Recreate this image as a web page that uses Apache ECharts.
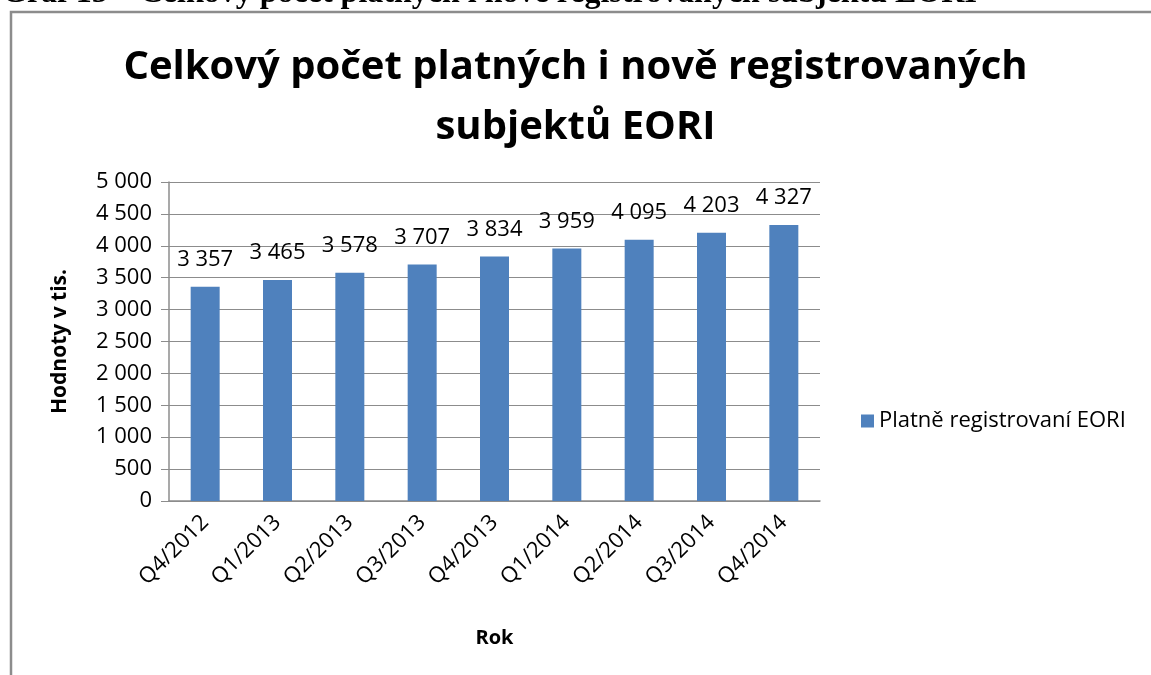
<!DOCTYPE html>
<html><head><meta charset="utf-8">
<script src="https://cdn.jsdelivr.net/npm/echarts@6/dist/echarts.min.js"></script>
<style>html,body{margin:0;padding:0;background:#fff}#c{width:1151px;height:675px}</style>
</head><body><div id="c"></div>
<script>
const categories = ['Q4/2012','Q1/2013','Q2/2013','Q3/2013','Q4/2013','Q1/2014','Q2/2014','Q3/2014','Q4/2014'];
const values = [3357, 3465, 3578, 3707, 3834, 3959, 4095, 4203, 4327];
const seriesName = 'Platně registrovaní EORI';
const titleText = 'Celkový počet platných i nově registrovaných\nsubjektů EORI';
const headerText = 'Graf 15 – Celkový počet platných i nově registrovaných subjektů EORI';
const fmt = v => String(v).replace(/\B(?=(\d{3})+(?!\d))/g, '\u00a0');
const F = '"Open Sans", "Noto Sans", sans-serif';
const chart = echarts.init(document.getElementById('c'), null, {renderer:'canvas'});
chart.setOption({
  animation: false,
  backgroundColor: '#fff',
  title: {
    text: titleText, left: 'center', top: 33,
    textStyle: {fontFamily: F, fontWeight: 'bold', fontSize: 40, lineHeight: 60, color: '#000'}
  },
  graphic: [
    {type: 'text', left: 2, top: -22, style: {text: headerText, font: 'bold 32px "Liberation Serif", serif', fill: '#000'}},
    {type: 'polyline', shape: {points: [[11, 675], [11, 12], [1151, 12]]}, style: {stroke: '#8c8c8c', lineWidth: 2.5, fill: null}}
  ],
  legend: {
    data: [seriesName], left: 856, top: 405, itemWidth: 13, itemHeight: 13, icon: 'rect', itemGap: 6,
    textStyle: {fontFamily: F, fontSize: 22, color: '#000'}
  },
  grid: {left: 169, right: 331, top: 182, bottom: 174, containLabel: false},
  xAxis: {
    type: 'category', data: categories,
    name: 'Rok', nameLocation: 'middle', nameGap: 127,
    nameTextStyle: {fontFamily: F, fontWeight: 'bold', fontSize: 20, color: '#000'},
    axisLine: {lineStyle: {color: '#8c8c8c', width: 1.5}},
    axisTick: {show: false},
    axisLabel: {rotate: 45, fontFamily: F, fontSize: 22, color: '#000', margin: 18, interval: 0}
  },
  yAxis: {
    type: 'value', min: 0, max: 5000, interval: 500,
    name: 'Hodnoty v tis.', nameLocation: 'middle', nameGap: 98,
    nameTextStyle: {fontFamily: F, fontWeight: 'bold', fontSize: 21, color: '#000'},
    axisLine: {show: true, lineStyle: {color: '#8c8c8c', width: 1.5}},
    axisTick: {show: true, length: 8, lineStyle: {color: '#8c8c8c'}},
    splitLine: {lineStyle: {color: '#8c8c8c', width: 1.2}},
    axisLabel: {fontFamily: F, fontSize: 22, color: '#000', margin: 17, formatter: fmt}
  },
  series: [{
    name: seriesName, type: 'bar', data: values, barWidth: 29,
    itemStyle: {color: '#4f81bd'},
    label: {show: true, position: 'top', distance: 16, fontFamily: F, fontSize: 22, color: '#000', formatter: p => fmt(p.value)}
  }]
});
</script></body></html>
